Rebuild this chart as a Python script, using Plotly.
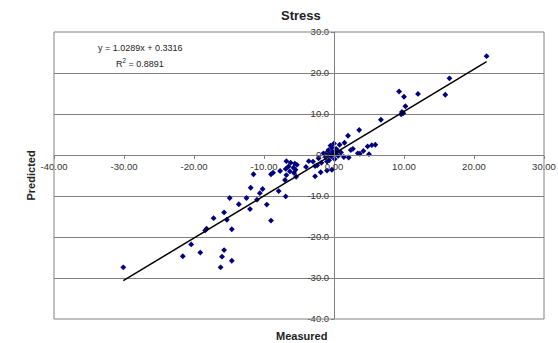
import plotly.graph_objects as go

# ---- data ----
measured = [21.8, 16.5, 15.9, 12.0, 9.3, 10.0, 10.2, 9.7, 9.6, 9.9, 6.7, 3.6, 2.0, 1.5,
            5.4, 5.9, 4.8, 3.7, 3.4, 5.0, 4.2, 2.4, 2.7, 1.4, 2.1,
            -0.5, 0.8, 0.0, -0.3, 0.3, -0.8, 0.5, -0.2, -1.0, 0.2, -0.6, 1.0, -1.5, -0.4, 0.6,
            -1.2, -0.7, -1.0, -1.8, -2.2, 0.1, -2.7, -2.7, -1.9, -1.0, -0.3, -4.0, -3.0, -3.6, -2.4,
            -6.8, -6.2, -5.6, -5.3, -6.5, -5.8, -6.9, -5.5, -6.3, -5.7, -6.8, -5.4, -7.0, -7.7,
            -8.7, -9.0, -11.5,
            -11.9, -10.2, -10.6, -7.9, -6.9, -14.9, -12.5, -11.0, -13.6, -9.6, -12.0, -15.7,
            -17.2, -15.3, -9.0, -18.2, -18.4, -14.6,
            -30.1, -21.6, -20.4, -19.1, -15.7, -16.0, -14.6, -16.2]
predicted = [24.1, 18.7, 14.7, 14.9, 15.5, 14.2, 11.9, 10.5, 9.9, 10.2, 8.6, 6.1, 4.7, 3.0,
             2.4, 2.5, 2.1, 0.3, 0.4, 0.2, 1.0, 1.2, 1.5, -0.5, -0.6,
             2.3, 2.5, 2.8, 1.8, 1.5, 1.2, 1.0, 0.8, 0.6, 0.3, 0.1, 0.6, 0.4, -0.3, -0.2,
             -0.5, -1.3, -1.6, -1.9, -0.8, -1.0, -2.7, -5.2, -4.2, -3.8, -3.6, -2.9, -1.6, -1.5, -2.5,
             -1.5, -1.9, -2.1, -2.4, -2.8, -3.1, -3.4, -3.6, -4.0, -4.4, -4.9, -5.3, -6.1, -3.9,
             -4.3, -4.7, -4.7,
             -8.0, -8.3, -9.3, -8.8, -10.1, -10.5, -10.5, -10.9, -12.0, -12.1, -13.2, -14.0,
             -15.4, -15.8, -16.0, -18.0, -18.4, -18.1,
             -27.4, -24.7, -21.8, -23.8, -23.2, -24.8, -25.8, -27.4]

trend_slope = 1.0289
trend_intercept = 0.3316
r_squared = 0.8891

x_ticks = [-40, -30, -20, -10, 0, 10, 20, 30]
y_ticks = [-40, -30, -20, -10, 0, 10, 20, 30]
x_range = [-40, 30]
y_range = [-40, 30]

# ---- trendline across data range ----
x_lo, x_hi = min(measured), max(measured)
trend_x = [x_lo, x_hi]
trend_y = [trend_slope * v + trend_intercept for v in trend_x]

fig = go.Figure()
fig.add_trace(go.Scatter(
    x=measured, y=predicted, mode="markers",
    marker=dict(symbol="diamond", size=4.5, color="#000080"),
    showlegend=False, hoverinfo="x+y", cliponaxis=False))
fig.add_trace(go.Scatter(
    x=trend_x, y=trend_y, mode="lines",
    line=dict(color="black", width=1.5),
    showlegend=False, hoverinfo="skip"))

x_pos = (0 - y_range[0]) / (y_range[1] - y_range[0])  # x axis sits at y=0
y_pos = (0 - x_range[0]) / (x_range[1] - x_range[0])  # y axis sits at x=0

font_family = "Liberation Sans, Arial, sans-serif"

fig.update_layout(
    width=558, height=343,
    margin=dict(l=54, r=14, t=32, b=24, autoexpand=False),
    paper_bgcolor="white", plot_bgcolor="white",
    font=dict(family=font_family, size=9, color="#333333"),
    xaxis=dict(
        range=x_range, tickvals=x_ticks,
        ticktext=[f"{v:.2f}" for v in x_ticks],
        showgrid=False, zeroline=False, automargin=False,
        showline=True, linecolor="#808080", linewidth=1,
        ticks="outside", ticklen=3, tickcolor="#808080",
        anchor="free", position=x_pos,
        tickfont=dict(size=9.5, color="#333333"),
    ),
    yaxis=dict(
        range=y_range, tickvals=y_ticks,
        ticktext=[f"{v:.1f}" for v in y_ticks],
        showgrid=True, gridcolor="#808080", gridwidth=1,
        zeroline=False, automargin=False,
        showline=True, linecolor="#808080", linewidth=1,
        ticks="outside", ticklen=3, tickcolor="#808080",
        anchor="free", position=y_pos,
        tickfont=dict(size=9.5, color="#333333"),
    ),
    shapes=[dict(type="rect", xref="paper", yref="paper", x0=0, x1=1, y0=0, y1=1,
                 line=dict(color="#808080", width=1), layer="above")],
    annotations=[
        dict(text="<b>Stress</b>", xref="paper", yref="paper", x=0.505, y=1.0,
             yshift=17, xanchor="center", yanchor="middle", showarrow=False,
             font=dict(size=13, color="#222222")),
        dict(text="<b>Measured</b>", xref="paper", yref="paper", x=0.505, y=0,
             yshift=-17, xanchor="center", yanchor="middle", showarrow=False,
             font=dict(size=11, color="#222222")),
        dict(text="<b>Predicted</b>", xref="paper", yref="paper", x=0, y=0.5,
             xshift=-24, xanchor="center", yanchor="middle", textangle=-90,
             showarrow=False, font=dict(size=11, color="#222222")),
        dict(text=f"y = {trend_slope}x + {trend_intercept}",
             xref="paper", yref="paper", x=0.176, y=1.0, yshift=-16,
             xanchor="center", yanchor="middle", showarrow=False,
             font=dict(size=9, color="#222222")),
        dict(text=f"R<sup>2</sup> = {r_squared}",
             xref="paper", yref="paper", x=0.176, y=1.0, yshift=-31,
             xanchor="center", yanchor="middle", showarrow=False,
             font=dict(size=9, color="#222222")),
    ],
)

fig.write_html("out.html", config={"displayModeBar": False},
               post_script="document.body.style.margin='0';document.body.style.overflow='hidden';")
